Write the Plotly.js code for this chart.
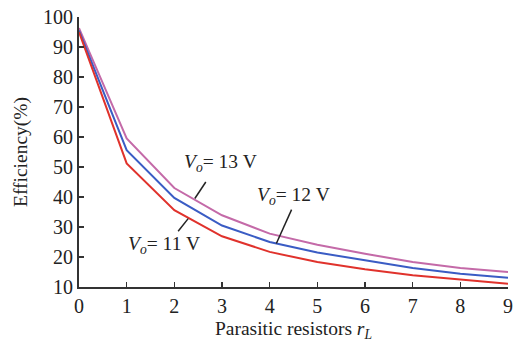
<!DOCTYPE html>
<html>
<head>
<meta charset="utf-8">
<script src="https://cdn.plot.ly/plotly-3.0.1.min.js"></script>
<style>html,body{margin:0;padding:0;background:#fff;}#chart{width:519px;height:342px;}</style>
</head>
<body>
<div id="chart"></div>
<script>
const rL = [0, 1, 2, 3, 4, 5, 6, 7, 8, 9];
const eff11 = [95.0, 51.2, 35.6, 26.9, 21.7, 18.3, 15.9, 13.9, 12.5, 11.1];
const eff12 = [95.5, 55.6, 39.7, 30.5, 25.0, 21.5, 18.9, 16.3, 14.4, 13.1];
const eff13 = [96.3, 59.5, 43.0, 33.9, 27.8, 24.1, 21.1, 18.3, 16.3, 15.0];
const xTicks = [0, 1, 2, 3, 4, 5, 6, 7, 8, 9];
const yTicks = [10, 20, 30, 40, 50, 60, 70, 80, 90, 100];

const labels = [
  {text: '<i>V<sub>o</sub></i>= 13 V', x: 2.96, y: 51.2, from: [2.66, 45.0], to: [2.43, 39.5]},
  {text: '<i>V<sub>o</sub></i>= 12 V', x: 4.49, y: 40.2, from: [4.46, 35.8], to: [4.14, 24.5]},
  {text: '<i>V<sub>o</sub></i>= 11 V', x: 1.78, y: 23.9, from: [2.29, 32.8], to: [2.08, 28.6]}
];

const font = 'Liberation Serif, Times New Roman, serif';
const mk = (y, color) => ({x: rL, y: y, type: 'scatter', mode: 'lines', line: {color: color, width: 2}, hoverinfo: 'skip'});
const data = [mk(eff13, '#c46aa8'), mk(eff12, '#3a5cc4'), mk(eff11, '#e0322c')];

const layout = {
  width: 519, height: 342,
  margin: {l: 79, r: 11, t: 17, b: 55},
  paper_bgcolor: '#fff', plot_bgcolor: '#fff',
  showlegend: false,
  font: {family: font, color: '#222', size: 19},
  xaxis: {
    range: [0, 9], tickvals: xTicks, ticks: 'inside', ticklen: 5, tickwidth: 1.5, tickcolor: '#333',
    showline: true, linecolor: '#333', linewidth: 2, showgrid: false, zeroline: false,
    tickfont: {family: font, size: 20, color: '#222'},
    title: {text: 'Parasitic resistors <i>r<sub>L</sub></i>', font: {family: font, size: 19.5, color: '#222'}, standoff: 9}
  },
  yaxis: {
    range: [10, 100], tickvals: yTicks, ticks: 'inside', ticklen: 5, tickwidth: 1.5, tickcolor: '#333',
    showline: true, linecolor: '#333', linewidth: 2, showgrid: false, zeroline: false,
    tickfont: {family: font, size: 20, color: '#222'},
    title: {text: 'Efficiency(%)', font: {family: font, size: 19.5, color: '#222'}, standoff: 10}
  },
  annotations: labels.map(l => ({x: l.x, y: l.y, xref: 'x', yref: 'y', text: l.text, showarrow: false,
    font: {family: font, size: 19.5, color: '#222'}})),
  shapes: labels.map(l => ({type: 'line', xref: 'x', yref: 'y', x0: l.from[0], y0: l.from[1], x1: l.to[0], y1: l.to[1],
    line: {color: '#222', width: 1.5}}))
};
Plotly.newPlot('chart', data, layout, {staticPlot: true, displayModeBar: false});
</script>
</body>
</html>
